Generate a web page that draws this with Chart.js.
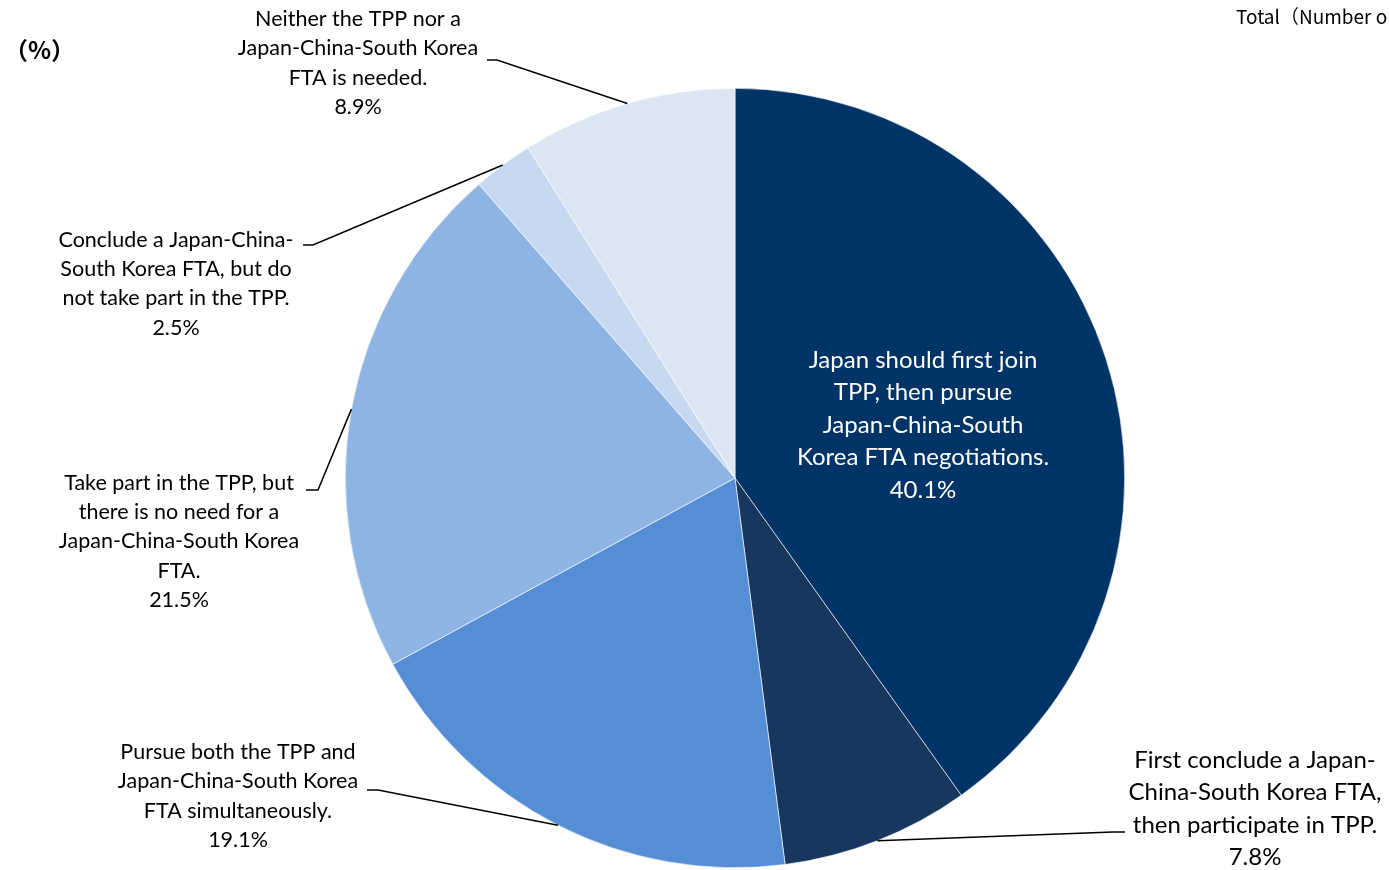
<!DOCTYPE html>
<html>
<head>
<meta charset="utf-8">
<script src="https://cdn.jsdelivr.net/npm/chart.js@4"></script>
<style>
html,body{margin:0;padding:0;background:#fff;}
#wrap{width:1389px;height:870px;position:relative;}
</style>
</head>
<body>
<div id="wrap"><canvas id="c" width="1389" height="870"></canvas></div>
<script>
// ---- data ----
const categories = [
  "Japan should first join TPP, then pursue Japan-China-South Korea FTA negotiations.",
  "First conclude a Japan-China-South Korea FTA, then participate in TPP.",
  "Pursue both the TPP and Japan-China-South Korea FTA simultaneously.",
  "Take part in the TPP, but there is no need for a Japan-China-South Korea FTA.",
  "Conclude a Japan-China-South Korea FTA, but do not take part in the TPP.",
  "Neither the TPP nor a Japan-China-South Korea FTA is needed."
];
const shares = [40.1, 7.8, 19.1, 21.5, 2.5, 8.9];
const labelLines = [
  ["Japan should first join", "TPP, then pursue", "Japan-China-South", "Korea FTA negotiations."],
  ["First conclude a Japan-", "China-South Korea FTA,", "then participate in TPP."],
  ["Pursue both the TPP and", "Japan-China-South Korea", "FTA simultaneously."],
  ["Take part in the TPP, but", "there is no need for a", "Japan-China-South Korea", "FTA."],
  ["Conclude a Japan-China-", "South Korea FTA, but do", "not take part in the TPP."],
  ["Neither the TPP nor a", "Japan-China-South Korea", "FTA is needed."]
];
const unitLabel = "（%）";
const totalLabel = "Total（Number o";
const sliceColors = ["#003366", "#17375E", "#558ED5", "#8EB4E3", "#C6D9F1", "#DCE6F2"];

// label layout (positions of text blocks and leader elbows)
const labelLayout = [
  {cx: 923, y0: 360, lh: 32.5, size: 24, color: "#ffffff"},
  {cx: 1255, y0: 760, lh: 32.4, size: 24, color: "#000000", elbow: [1125, 1113, 832]},
  {cx: 238, y0: 752, lh: 29.5, size: 21.5, color: "#000000", elbow: [367, 378, 790]},
  {cx: 179, y0: 483, lh: 29.2, size: 21.5, color: "#000000", elbow: [306, 318, 490]},
  {cx: 176, y0: 240, lh: 29.2, size: 21.5, color: "#000000", elbow: [303, 313, 245]},
  {cx: 358, y0: 19, lh: 29.5, size: 21.5, color: "#000000", elbow: [487, 497, 60]}
];

const FONT = "Lato, 'Noto Sans', sans-serif";

const labelPlugin = {
  id: 'labelPlugin',
  afterDraw(chart) {
    const ctx = chart.ctx;
    const meta = chart.getDatasetMeta(0);
    ctx.save();
    meta.data.forEach((arc, i) => {
      const p = arc.getProps(['x','y','startAngle','endAngle','outerRadius'], true);
      const mid = (p.startAngle + p.endAngle) / 2;
      const ax = p.x + Math.cos(mid) * p.outerRadius;
      const ay = p.y + Math.sin(mid) * p.outerRadius;
      const L = labelLayout[i];
      if (L.elbow) {
        ctx.beginPath();
        ctx.strokeStyle = "#000";
        ctx.lineWidth = 1.5;
        ctx.moveTo(L.elbow[0], L.elbow[2]);
        ctx.lineTo(L.elbow[1], L.elbow[2]);
        ctx.lineTo(ax, ay);
        ctx.stroke();
      }
      const lines = labelLines[i].concat([shares[i].toFixed(1) + "%"]);
      ctx.fillStyle = L.color;
      ctx.font = L.size + "px " + FONT;
      ctx.textAlign = "center";
      ctx.textBaseline = "middle";
      lines.forEach((t, k) => ctx.fillText(t, L.cx, L.y0 + k * L.lh));
    });
    // unit label and total label
    ctx.fillStyle = "#000";
    ctx.textAlign = "left";
    ctx.textBaseline = "middle";
    ctx.font = "bold 24px 'Noto Sans CJK JP', sans-serif";
    ctx.fillText(unitLabel, 4, 50);
    ctx.font = "19px 'Noto Sans CJK JP', sans-serif";
    ctx.fillText(totalLabel, 1236, 17);
    ctx.restore();
  }
};

new Chart(document.getElementById('c'), {
  type: 'pie',
  data: {
    labels: categories,
    datasets: [{
      data: shares,
      backgroundColor: sliceColors,
      borderColor: "#ffffff",
      borderWidth: 0.6
    }]
  },
  options: {
    responsive: false,
    animation: false,
    layout: {padding: {top: 88, bottom: 2, left: 345, right: 264}},
    plugins: {legend: {display: false}, tooltip: {enabled: false}}
  },
  plugins: [labelPlugin]
});
</script>
</body>
</html>
